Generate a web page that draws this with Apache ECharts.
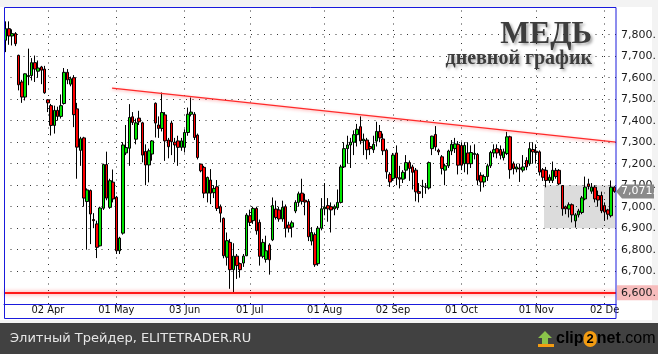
<!DOCTYPE html>
<html><head><meta charset="utf-8">
<script src="https://cdn.jsdelivr.net/npm/echarts@6/dist/echarts.min.js"></script>
<style>html,body{margin:0;padding:0;background:#f3f3f3}#c{width:658px;height:354px}</style>
</head><body><div id="c"></div>
<script>
// ---- data (LME copper, daily, 2013) ----
const openV = [7774,7828,7794,7805,7704,7580,7510,7605,7610,7670,7630,7650,7640,7497,7470,7378,7448,7420,7480,7625,7570,7600,7455,7262,7320,7024,7075,6940,6920,6818,6993,7196,6997,7114,7044,6795,6877,7250,7272,7418,7314,7412,7390,7257,7194,7245,7481,7380,7364,7427,7310,7389,7300,7306,7276,7276,7345,7430,7430,7333,7198,7183,7063,7124,7065,7093,7000,6946,6765,6834,6707,6770,6735,6738,6772,6958,6935,6992,6927,6769,6755,6822,6846,6989,6985,6943,7000,6915,6905,6980,7020,7063,7030,7025,6840,6870,6735,6900,6990,7005,7000,6990,6995,7020,7185,7270,7287,7300,7335,7372,7306,7310,7280,7265,7305,7350,7315,7263,7150,7131,7250,7135,7128,7170,7205,7185,7170,7070,7094,7090,7087,7270,7336,7263,7232,7170,7190,7259,7270,7290,7285,7200,7250,7200,7243,7243,7146,7115,7140,7190,7250,7270,7266,7228,7247,7325,7200,7175,7180,7170,7215,7200,7266,7258,7255,7172,7169,7122,7122,7169,7169,7098,7000,6989,7009,6934,6962,6973,7036,7106,7072,7091,7052,7052,7005,6985,6958,7091];
const closeV = [7828,7794,7805,7758,7567,7510,7618,7610,7670,7640,7645,7635,7530,7483,7378,7448,7420,7470,7625,7590,7595,7428,7277,7316,7040,7078,6966,6935,6811,6994,7196,7040,7121,7036,6795,6854,7287,7275,7415,7392,7390,7395,7240,7194,7260,7306,7389,7364,7438,7306,7279,7302,7287,7276,7306,7345,7430,7440,7322,7229,7167,7063,7136,7063,7085,6992,6970,6772,6842,6707,6770,6726,6707,6770,6961,6927,6992,6888,6769,6834,6795,6753,7005,6950,6943,6997,6900,6900,6925,7020,7060,7025,7022,6860,6880,6730,6900,6990,6998,6990,6985,7000,7020,7185,7270,7287,7300,7335,7360,7306,7314,7265,7270,7290,7350,7320,7260,7162,7115,7240,7134,7128,7160,7205,7178,7160,7069,7062,7096,7092,7205,7328,7278,7255,7178,7190,7259,7290,7292,7193,7193,7285,7200,7252,7248,7123,7115,7140,7190,7252,7265,7250,7239,7255,7325,7172,7177,7185,7175,7185,7185,7270,7255,7252,7161,7137,7122,7137,7169,7140,7106,6990,6990,7009,6962,6962,6980,7041,7091,7094,7091,7036,7031,6981,6975,6965,7091,7071];
const lowV = [7719,7753,7750,7747,7541,7483,7494,7565,7587,7580,7600,7570,7525,7440,7331,7340,7400,7410,7475,7570,7560,7370,7130,7190,7000,6800,6826,6900,6761,6815,6985,7030,6990,7020,6780,6780,6870,7240,7190,7380,7290,7380,7206,7100,7113,7214,7322,7320,7350,7213,7225,7240,7206,7190,7260,7252,7330,7420,7310,7220,7160,7040,7020,7012,7040,6980,6927,6760,6726,6618,6602,6664,6670,6720,6770,6910,6920,6870,6726,6760,6740,6684,6840,6940,6930,6930,6857,6880,6857,6970,7000,7010,6960,6840,6820,6720,6725,6890,6960,6930,6880,6960,6985,7015,7180,7200,7180,7240,7280,7290,7240,7220,7240,7250,7280,7300,7240,7130,7092,7120,7100,7085,7110,7130,7120,7080,7025,7020,7040,7060,7080,7240,7260,7240,7150,7100,7180,7240,7250,7150,7170,7160,7150,7180,7220,7100,7070,7090,7120,7180,7230,7225,7220,7215,7240,7130,7150,7160,7115,7160,7170,7190,7200,7200,7145,7120,7090,7110,7110,7130,7100,6958,6965,6950,6927,6903,6950,6965,7030,7080,7060,7020,7000,6970,6934,6940,6950,7065];
const highV = [7862,7862,7825,7812,7707,7590,7620,7735,7691,7703,7680,7655,7655,7500,7478,7470,7465,7522,7645,7640,7605,7612,7483,7325,7325,7085,7080,6970,6935,7000,7200,7256,7130,7173,7050,6860,7300,7380,7477,7440,7410,7446,7395,7290,7270,7310,7485,7420,7531,7440,7320,7400,7320,7330,7320,7360,7461,7508,7440,7340,7200,7190,7140,7175,7100,7124,7010,6950,6880,6850,6830,6780,6740,6780,6970,6986,7000,7000,6940,6850,6865,6830,7043,7028,7000,7028,7010,6930,6935,7030,7070,7130,7060,7035,6905,6880,6910,7040,7110,7040,7020,7010,7080,7195,7300,7330,7320,7355,7385,7420,7340,7320,7300,7330,7395,7380,7340,7270,7160,7250,7285,7190,7170,7240,7215,7195,7180,7110,7125,7110,7210,7330,7375,7270,7240,7200,7265,7310,7320,7305,7300,7300,7300,7285,7290,7250,7160,7150,7200,7260,7290,7290,7285,7270,7348,7330,7210,7200,7200,7240,7230,7300,7300,7290,7262,7180,7185,7150,7210,7180,7175,7100,7005,7020,7015,6970,6990,7050,7140,7130,7110,7100,7075,7070,7020,6990,7122,7095];
const yTicks = [6700,6800,6900,7000,7100,7200,7300,7400,7500,7600,7700,7800];
const monthStarts = ['2013-04-02','2013-05-01','2013-06-03','2013-07-01','2013-08-01','2013-09-02','2013-10-01','2013-11-01','2013-12-02'];
const monthLabels = ['02 Apr','01 May','03 Jun','01 Jul','01 Aug','02 Sep','01 Oct','01 Nov','02 De'];
const holidays = ['2013-03-29','2013-04-01','2013-05-06','2013-05-27','2013-08-26'];
const trendLine = [[32.7, 7551], [187.5, 7300]];
const supportLevel = 6600;
const lastPrice = 7071;
const boxX = [165.4, 187.5];
const boxY = [6900, 7100];

// trading-day categories
const dates = [];
for (let t = Date.UTC(2013,2,12); t <= Date.UTC(2013,11,5); t += 86400000) {
  const d = new Date(t); const wd = d.getUTCDay(); const s = d.toISOString().slice(0,10);
  if (wd !== 0 && wd !== 6 && holidays.indexOf(s) < 0) dates.push(s);
}
const monthIdx = monthStarts.map(s => dates.indexOf(s));
const N = dates.length;
const candles = dates.map((_, i) => [openV[i], closeV[i], lowV[i], highV[i]]);
const fmt = v => v.toLocaleString('en-US') + '.';

const chart = echarts.init(document.getElementById('c'), null, {renderer: 'canvas'});
const dotted = {color: '#333', width: 1, type: [1, 5.5]};
const yMin = 6547.4, yMax = 7928.8;

chart.setOption({
  animation: false,
  backgroundColor: '#f3f3f3',
  grid: {left: 4, right: 42, top: 7, bottom: 50, show: false},
  xAxis: [
    {type: 'category', data: dates, boundaryGap: true,
     axisLine: {show: true, lineStyle: {color: '#1a1adc', width: 1}},
     axisTick: {show: false}, splitLine: {show: false},
     axisLabel: {interval: (i) => monthIdx.indexOf(i) >= 0, margin: 1,
       formatter: (v, i) => monthLabels[monthIdx.indexOf(i)] || '',
       color: '#111', fontSize: 11, fontFamily: '"DejaVu Sans Condensed", "Liberation Sans Narrow", "Liberation Sans", sans-serif'}},
    {type: 'value', min: -0.5, max: N - 0.5, show: false}
  ],
  yAxis: {type: 'value', min: yMin, max: yMax, show: false, splitLine: {show: false}},
  series: [
    {type: 'line', name: 'grid', xAxisIndex: 1, data: [[0, 7000]], symbol: 'none', lineStyle: {opacity: 0}, silent: true,
     markArea: {silent: true, z: 0, itemStyle: {color: '#dcdcdc'},
       data: [[{coord: [boxX[0], boxY[0]]}, {coord: [boxX[1], boxY[1]]}]]},
     markLine: {silent: true, z: 1, symbol: 'none', animation: false,
       data: yTicks.map(v => ({yAxis: v, lineStyle: dotted,
                label: {show: true, position: 'end', distance: 5, formatter: fmt(v), color: '#1a1a1a', fontSize: 11, fontFamily: '"DejaVu Sans", sans-serif'}}))
         .concat(monthIdx.map(i => ({xAxis: i, lineStyle: dotted, label: {show: false}})))}},
    {type: 'candlestick', name: 'Copper', xAxisIndex: 0, data: candles, barWidth: 3, z: 3,
     itemStyle: {color: '#00e400', color0: '#ff0000', borderColor: '#000', borderColor0: '#000', borderWidth: 1}},
    {type: 'line', name: 'trend', xAxisIndex: 1, data: trendLine, symbol: 'none', z: 4, silent: true,
     lineStyle: {color: '#ff2a2a', width: 1.3, shadowColor: 'rgba(255,60,60,0.5)', shadowBlur: 3, shadowOffsetY: 1},
     markLine: {silent: true, z: 6, symbol: 'none', animation: false,
       data: [{yAxis: supportLevel,
         lineStyle: {color: '#ff1a1a', width: 2, type: 'solid', shadowColor: 'rgba(255,40,40,0.6)', shadowBlur: 4},
         label: {show: true, position: 'end', distance: 1, formatter: fmt(supportLevel), color: '#1a1a1a', fontSize: 11,
           fontFamily: '"DejaVu Sans", sans-serif', backgroundColor: '#f7bcbc', padding: [2, 6, 2, 4]}}]}}
  ]
});

const yLast = chart.convertToPixel({yAxisIndex: 0}, lastPrice);
chart.setOption({
  graphic: [
    {type: 'rect', z: -10, silent: true, shape: {x: 0, y: 7, width: 652, height: 313}, style: {fill: '#ffffff'}},
    {type: 'rect', z: 100, silent: true, shape: {x: 4.5, y: 7.5, width: 611.5, height: 311}, style: {fill: 'none', stroke: '#1a1adc', lineWidth: 1}},
    {type: 'polygon', z: 100, silent: true,
     shape: {points: [[616, yLast], [622, yLast - 7], [654, yLast - 7], [654, yLast + 7], [622, yLast + 7]]},
     style: {fill: '#8a8a8a'}},
    {type: 'text', z: 101, silent: true, style: {text: fmt(lastPrice), x: 621, y: yLast, verticalAlign: 'middle',
      font: '11px "DejaVu Sans", sans-serif', fill: '#ffffff'}},
    {type: 'text', z: 50, silent: true, style: {text: 'МЕДЬ', x: 592, y: 35, align: 'right', verticalAlign: 'middle',
      font: 'bold 31px "Liberation Serif", "DejaVu Serif", serif', fill: '#3d3d3d',
      textShadowColor: 'rgba(0,0,0,0.35)', textShadowBlur: 3, textShadowOffsetX: 2, textShadowOffsetY: 2}},
    {type: 'text', z: 50, silent: true, style: {text: 'дневной график', x: 592, y: 59, align: 'right', verticalAlign: 'middle',
      font: 'bold 20px "Liberation Serif", "DejaVu Serif", serif', fill: '#3d3d3d',
      textShadowColor: 'rgba(0,0,0,0.3)', textShadowBlur: 3, textShadowOffsetX: 2, textShadowOffsetY: 2}},
    {type: 'rect', z: 50, silent: true, shape: {x: 0, y: 323, width: 658, height: 31}, style: {fill: '#414141'}},
    {type: 'text', z: 51, silent: true, style: {text: 'Элитный Трейдер, ELITETRADER.RU', x: 10, y: 339, verticalAlign: 'middle',
      font: '13px "DejaVu Sans", sans-serif', fill: '#e6e6e6'}},
    {type: 'polygon', z: 51, silent: true, shape: {points: [[545, 331], [552, 338], [548, 338], [548, 346], [542, 346], [542, 338], [538, 338]]},
      style: {fill: '#8bc34a'}},
    {type: 'rect', z: 51, silent: true, shape: {x: 538, y: 344, width: 16, height: 3}, style: {fill: '#f39c12'}},
    {type: 'text', z: 51, silent: true, style: {x: 556, y: 339, verticalAlign: 'middle',
      text: '{a|clip}{b|2}{a|net}{c|.com}',
      rich: {a: {fontSize: 16, fontWeight: 'bold', fontFamily: '"Liberation Sans", sans-serif', color: '#ffffff'},
             b: {fontSize: 13, fontWeight: 'bold', fontFamily: '"Liberation Sans", sans-serif', color: '#ffffff', backgroundColor: '#f39c12', borderRadius: 8, padding: [2, 3, 1, 3]},
             c: {fontSize: 16, fontFamily: '"Liberation Sans", sans-serif', color: '#bdbdbd'}}}}
  ]
});
</script></body></html>
